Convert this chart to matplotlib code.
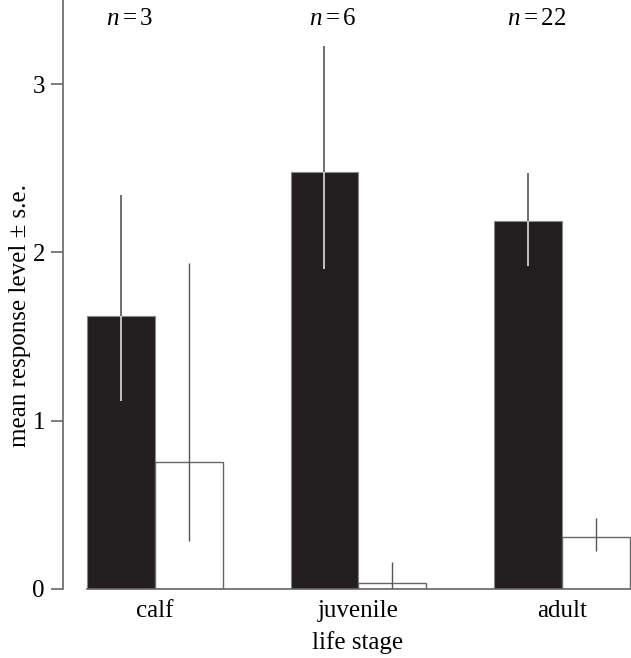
import numpy as np
import matplotlib
matplotlib.use("Agg")
import matplotlib.pyplot as plt

plt.rcParams['font.family'] = ['Liberation Serif', 'DejaVu Serif']
plt.rcParams['mathtext.fontset'] = 'custom'
plt.rcParams['mathtext.rm'] = 'Liberation Serif'
plt.rcParams['mathtext.it'] = 'Liberation Serif:italic'

stages = ['calf', 'juvenile', 'adult']
n_labels = ['3', '6', '22']

# black bars
dark_mean = [1.62, 2.477, 2.186]
dark_upper = [2.34, 3.225, 2.47]
dark_lower = [1.12, 1.90, 1.92]

# white bars
light_mean = [0.754, 0.036, 0.31]
light_upper = [1.94, 0.16, 0.42]
light_lower = [0.285, 0.0, 0.225]

x = np.arange(len(stages))
w = 0.334

fig = plt.figure(figsize=(6.31, 6.58), dpi=100)
ax = fig.add_axes([0.0998, 0.1049, 0.9002, 0.8951])

ax.bar(x - w / 2, dark_mean, w, color='#231f20', edgecolor='#888888', linewidth=0.8, zorder=2)
ax.bar(x + w / 2, light_mean, w, color='white', edgecolor='#666666', linewidth=1.0, zorder=2)

for i in range(len(stages)):
    xd = x[i] - w / 2
    # part above dark bar, then part inside it in light grey
    ax.vlines(xd, dark_mean[i], dark_upper[i], color='#555555', linewidth=1.2, zorder=3)
    ax.vlines(xd, dark_lower[i], dark_mean[i], color='#dddddd', linewidth=1.2, zorder=3)
    ax.vlines(x[i] + w / 2, light_lower[i], light_upper[i], color='#555555', linewidth=1.0, zorder=3)
    ax.text(x[i] - 0.125, 3.39, r'$n=\mathrm{' + n_labels[i] + '}$', fontsize=18,
            ha='center', va='center')

ax.set_xlim(-0.452, 2.339)
ax.set_ylim(0, 3.5)
ax.set_yticks([0, 1, 2, 3])
ax.set_xticks(x)
ax.set_xticklabels(stages)
ax.tick_params(axis='x', length=0, labelsize=18, pad=8)
ax.tick_params(axis='y', length=9, width=1.2, color='#666666', labelsize=18, pad=4)

for s in ['top', 'right']:
    ax.spines[s].set_visible(False)
ax.spines['left'].set_color('#666666')
ax.spines['left'].set_linewidth(1.2)
ax.spines['bottom'].set_color('#666666')
ax.spines['bottom'].set_linewidth(1.2)
ax.spines['bottom'].set_bounds(-w, 2.339)

ax.set_xlabel('life stage', fontsize=18)
ax.set_ylabel('mean response level ± s.e.', fontsize=18)
ax.xaxis.set_label_coords(0.519, -0.072, transform=ax.transAxes)
ax.yaxis.set_label_coords(-0.056, 0.465, transform=ax.transAxes)

fig.savefig('out.png', dpi=100)
